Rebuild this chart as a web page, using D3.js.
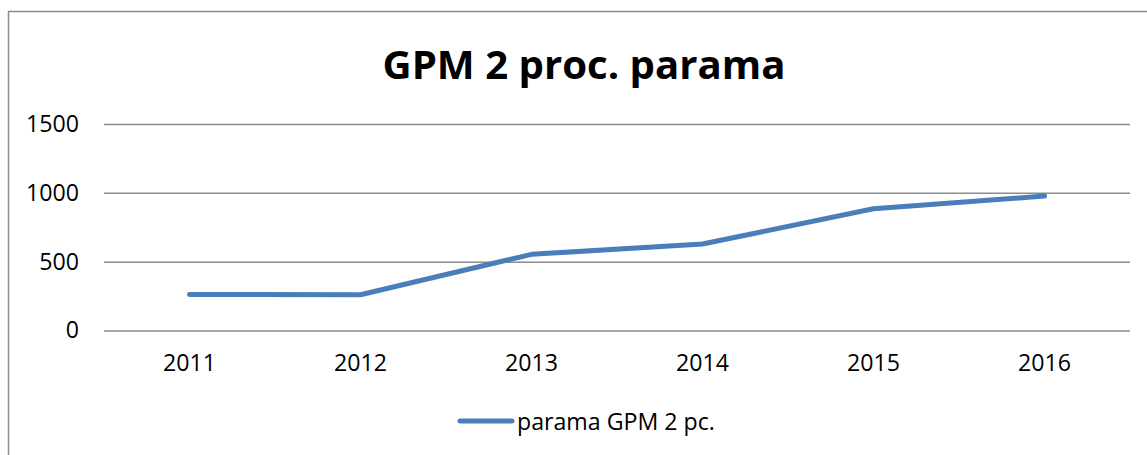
<!DOCTYPE html>
<html>
<head>
<meta charset="utf-8">
<script src="https://cdn.jsdelivr.net/npm/d3@7"></script>
<style>
  body { margin: 0; background: #fff; }
  svg { display: block; }
</style>
</head>
<body>
<svg></svg>
<script>
// podaci za grafikon
const years = ["2011", "2012", "2013", "2014", "2015", "2016"];
const values = [262, 260, 553, 628, 884, 977];
const yTicks = [0, 500, 1000, 1500];
const chartTitle = "GPM 2 proc. parama";
const seriesName = "parama GPM 2 pc.";

const width = 1147, height = 455;
const font = "'Open Sans', 'Noto Sans', sans-serif";

const svg = d3.select("svg").attr("width", width).attr("height", height);

// okvir grafikona
svg.append("rect")
    .attr("x", 8.5).attr("y", 11.5)
    .attr("width", 1160).attr("height", 470)
    .style("fill", "#fff")
    .style("stroke", "#8c8c8c")
    .style("stroke-width", 1.5);

// skale
const x = d3.scaleBand().domain(years).range([104, 1130]);
const y = d3.scaleLinear().domain([0, 1500]).range([330.5, 124]);

// pomocna funkcija: velicina fonta prema zeljenoj sirini teksta
function fitSize(text, weight, target) {
    const t = svg.append("text")
        .style("font-family", font).style("font-weight", weight)
        .style("font-size", "100px").text(text);
    const w = t.node().getComputedTextLength();
    t.remove();
    return 100 * target / w;
}
const tickSize = fitSize("2016", "normal", 53);

// mreza i oznake y ose
const yAxis = svg.append("g")
    .attr("transform", "translate(104,0)")
    .call(d3.axisLeft(y).tickValues(yTicks).tickFormat(d3.format("d"))
        .tickSize(-(1130 - 104)).tickPadding(25));
yAxis.select(".domain").remove();
yAxis.selectAll(".tick line")
    .style("stroke", "#8c8c8c")
    .style("stroke-width", 1.5);
yAxis.selectAll(".tick text")
    .style("font-family", font)
    .style("font-size", tickSize + "px")
    .style("fill", "#000");

// oznake x ose
const xAxis = svg.append("g")
    .attr("transform", "translate(0,330.5)")
    .call(d3.axisBottom(x).tickSize(0).tickPadding(24));
xAxis.select(".domain").remove();
xAxis.selectAll(".tick text")
    .style("font-family", font)
    .style("font-size", tickSize + "px")
    .style("fill", "#000");

// linija
const line = d3.line()
    .x((d, i) => x(years[i]) + x.bandwidth() / 2)
    .y(d => y(d));

svg.append("path")
    .datum(values)
    .attr("d", line)
    .style("fill", "none")
    .style("stroke", "#4a7ebb")
    .style("stroke-width", 5)
    .style("stroke-linejoin", "round")
    .style("stroke-linecap", "round");

// naslov
svg.append("text")
    .attr("x", 584).attr("y", 79)
    .attr("text-anchor", "middle")
    .style("font-family", font)
    .style("font-weight", "bold")
    .style("font-size", fitSize(chartTitle, "bold", 403) + "px")
    .text(chartTitle);

// legenda
svg.append("line")
    .attr("x1", 460).attr("x2", 512)
    .attr("y1", 421).attr("y2", 421)
    .style("stroke", "#4a7ebb")
    .style("stroke-width", 5)
    .style("stroke-linecap", "round");

svg.append("text")
    .attr("x", 517).attr("y", 430)
    .style("font-family", font)
    .style("font-size", fitSize(seriesName, "normal", 198) + "px")
    .text(seriesName);
</script>
</body>
</html>
